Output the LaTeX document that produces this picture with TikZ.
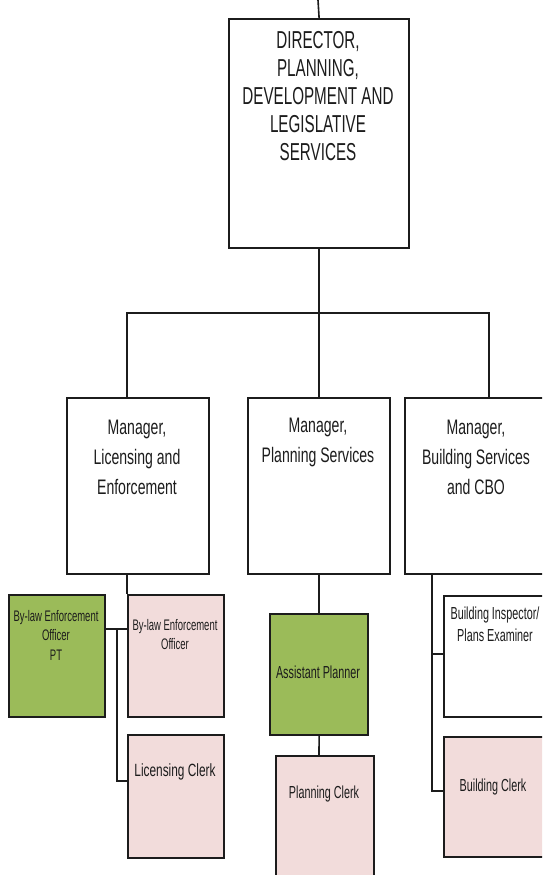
\documentclass[tikz,border=0pt]{standalone}
\usepackage{fontspec}
\setmainfont{Liberation Sans}[FakeStretch=0.67]
\newfontfamily\narrowfont{Liberation Sans}[FakeStretch=0.62]
\usetikzlibrary{calc}
\definecolor{boxgreen}{RGB}{155,187,89}
\definecolor{boxpink}{RGB}{242,220,219}
\definecolor{ink}{RGB}{28,28,28}
\tikzset{
  box/.style={draw=ink, line width=2.2pt, rectangle, inner sep=0pt, anchor=north west, fill=white},
  greenbox/.style={box, fill=boxgreen},
  pinkbox/.style={box, fill=boxpink},
  conn/.style={draw=ink, line width=1.6pt},
  txt/.style={text=ink, align=center, inner sep=0pt},
  dirtxt/.style={txt, font=\narrowfont\fontsize{24.5}{28}\selectfont},
  mgrtxt/.style={txt, font=\fontsize{21}{30}\selectfont},
  smalltxt/.style={txt, font=\narrowfont\fontsize{15.3}{19.5}\selectfont},
  midtxt/.style={txt, font=\narrowfont\fontsize{17.4}{22}\selectfont}
}
\begin{document}
\begin{tikzpicture}[x=1pt,y=-1pt]
\useasboundingbox (0,0) rectangle (542,875);
\fill[white] (0,0) rectangle (542,875);
\clip (0,0) rectangle (542,875);

% boxes
\node[box, minimum width=180pt, minimum height=229pt] (dir) at (228,18) {};
\node[box, minimum width=142pt, minimum height=176pt] (mgrL) at (66,397) {};
\node[box, minimum width=142pt, minimum height=176pt] (mgrP) at (247,397) {};
\node[box, minimum width=143pt, minimum height=176pt] (mgrB) at (404,397) {};
\node[greenbox, minimum width=96pt, minimum height=122pt] (green) at (8,594) {};
\node[pinkbox, minimum width=96pt, minimum height=122pt] (beo) at (127,594) {};
\node[pinkbox, minimum width=96pt, minimum height=123pt] (lc) at (127,734) {};
\node[greenbox, minimum width=98pt, minimum height=121pt] (ap) at (269,613) {};
\node[pinkbox, minimum width=98pt, minimum height=140pt] (pc) at (275,755) {};
\node[box, minimum width=104pt, minimum height=121pt] (bi) at (443,595) {};
\node[pinkbox, minimum width=104pt, minimum height=120pt] (bc) at (443,736) {};

% texts
\node[dirtxt] (tdir) at (318,96) {DIRECTOR,\\PLANNING,\\DEVELOPMENT AND\\LEGISLATIVE\\SERVICES};
\node[mgrtxt] (tmgrL) at (137,457) {Manager,\\Licensing and\\Enforcement};
\node[mgrtxt] (tmgrP) at (318,442) {Manager,\\Planning Services};
\node[mgrtxt] (tmgrB) at (476,457) {Manager,\\Building Services\\and CBO};
\node[smalltxt] (tgreen) at (56,635) {By-law Enforcement\\Officer\\PT};
\node[smalltxt] (tbeo) at (175,634.5) {By-law Enforcement\\Officer};
\node[txt, font=\fontsize{17.7}{22}\selectfont] (tlc) at (175,772) {Licensing Clerk};
\node[midtxt] (tap) at (318,672) {Assistant Planner};
\node[midtxt] (tpc) at (324,794) {Planning Clerk};
\node[txt, font=\narrowfont\fontsize{17.4}{22}\selectfont] (tbi) at (495,624) {Building Inspector/\\Plans Examiner};
\node[midtxt] (tbc) at (493,787) {Building Clerk};

% helper coordinates
\coordinate (topend) at (318,0);
\coordinate (bar) at (318,313);
\coordinate (xL) at (127,0);
\coordinate (xR) at (489,0);
\coordinate (yG) at (0,629);
\coordinate (xG) at (117,0);
\coordinate (yLC) at (0,781);
\coordinate (xPC) at (319,0);
\coordinate (xB) at (432,0);
\coordinate (yBI) at (0,654);
\coordinate (yBC) at (0,791);

% connectors
\draw[conn] (topend) -- (dir.north);
\draw[conn] (dir.south) -- (mgrP.north);
\draw[conn] (mgrL.north -| xL) |- (bar) -| (mgrB.north -| xR);
\draw[conn] (mgrL.south -| xL) -- (beo.north -| xL);
\draw[conn] (green.east |- yG) -- (beo.west |- yG);
\draw[conn] (xG |- yG) |- (lc.west |- yLC);
\draw[conn] (mgrP.south) -- (ap.north);
\draw[conn] (ap.south) -- (pc.north -| xPC);
\draw[conn] (mgrB.south -| xB) |- (bc.west |- yBC);
\draw[conn] (xB |- yBI) -- (bi.west |- yBI);
\end{tikzpicture}
\end{document}
